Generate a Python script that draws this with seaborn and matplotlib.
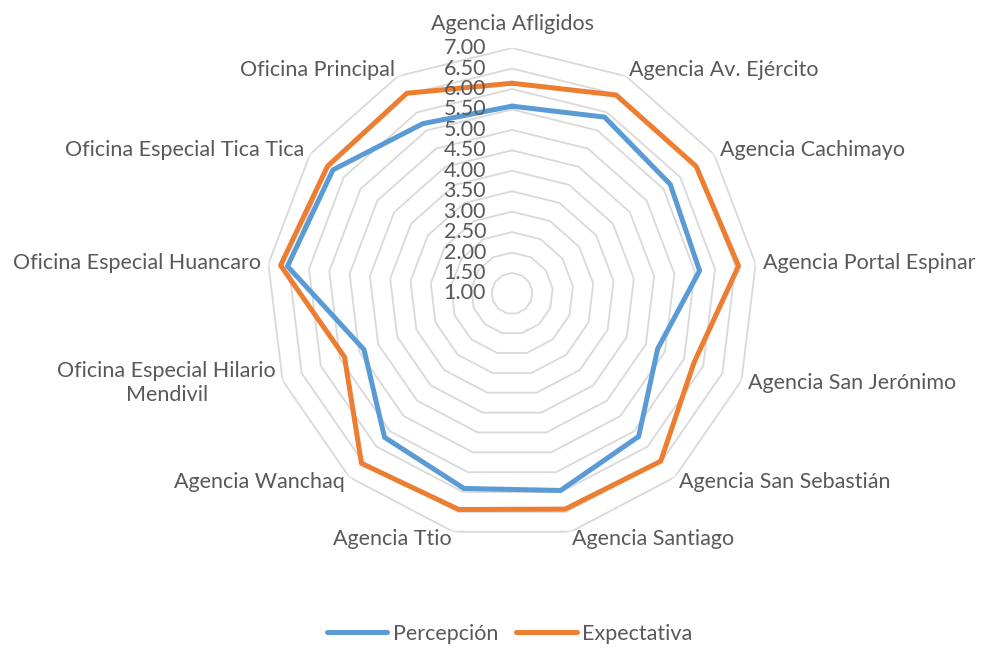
import numpy as np
import pandas as pd
import seaborn as sns
import matplotlib.pyplot as plt

categorias = ['Agencia Afligidos', 'Agencia Av. Ejército', 'Agencia Cachimayo',
              'Agencia Portal Espinar', 'Agencia San Jerónimo', 'Agencia San Sebastián',
              'Agencia Santiago', 'Agencia Ttio', 'Agencia Wanchaq',
              'Oficina Especial Hilario\nMendivil', 'Oficina Especial Huancaro',
              'Oficina Especial Tica Tica', 'Oficina Principal']
percepcion = [5.58, 5.87, 5.70, 5.62, 4.81, 5.67, 5.96, 5.91, 5.70, 4.87, 6.53, 6.32, 5.69]
expectativa = [6.14, 6.48, 6.47, 6.58, 5.76, 6.48, 6.43, 6.44, 6.55, 5.38, 6.70, 6.48, 6.53]
niveles = np.arange(1.0, 7.01, 0.5)

sns.set_theme(style="white")
plt.rcParams['font.family'] = ['Lato', 'DejaVu Sans']
gris = '#595959'
rejilla = '#d9d9d9'
fs = 15.5

n = len(categorias)
angulos = np.linspace(0, 2 * np.pi, n, endpoint=False)
ang_cerrado = np.append(angulos, 2 * np.pi)

# tabla larga para seaborn (cerrando el poligono)
filas = []
for serie, vals in [('Percepción', percepcion), ('Expectativa', expectativa)]:
    for i, t in enumerate(ang_cerrado):
        filas.append({'theta': t, 'valor': vals[i % n], 'serie': serie})
df = pd.DataFrame(filas)

fig = plt.figure(figsize=(9.82, 6.48), dpi=100)
ax = fig.add_axes([0.2715, 0.1684, 0.4998, 0.7574], projection='polar')
ax.set_theta_zero_location('N')
ax.set_theta_direction(-1)

# rejilla poligonal (sin radios)
for nv in niveles[1:]:
    ax.plot(ang_cerrado, [nv] * (n + 1), color=rejilla, lw=1.3, zorder=0)

sns.lineplot(data=df, x='theta', y='valor', hue='serie', sort=False, estimator=None,
             palette={'Percepción': '#5B9BD5', 'Expectativa': '#ED7D31'},
             linewidth=3.6, ax=ax, zorder=3)

ax.set_ylim(1, 7)
ax.grid(False)
ax.spines['polar'].set_visible(False)
ax.set_xticks([])
ax.set_yticks([])
ax.set_xlabel('')
ax.set_ylabel('')
ax.patch.set_alpha(0)

# etiquetas del eje radial
for nv in niveles:
    ax.annotate(f'{nv:.2f}', xy=(0, nv), xytext=(-26, 0), textcoords='offset pixels',
                ha='right', va='center', fontsize=fs, color=gris, zorder=4)

# etiquetas de categorias
for t, lab in zip(angulos, categorias):
    s, c = np.sin(t), np.cos(t)
    ha = 'left' if s > 0.05 else ('right' if s < -0.05 else 'center')
    if c > 0.99:
        va, off = 'bottom', (0, 14)
    else:
        va, off = 'center', (s * 7, c * 7)
    ax.annotate(lab, xy=(t, 7), xytext=off, textcoords='offset pixels',
                ha=ha, va=va, multialignment='center', linespacing=1.3,
                fontsize=fs, color=gris, annotation_clip=False)

handles, labels = ax.get_legend_handles_labels()
ax.get_legend().remove()
fig.legend(handles, labels, loc='center', bbox_to_anchor=(0.519, 1 - 634 / 648), ncol=2,
           frameon=False, fontsize=fs, handlelength=2.8, handletextpad=0.25,
           columnspacing=0.85, labelcolor=gris)

fig.savefig('out.png', dpi=100)
